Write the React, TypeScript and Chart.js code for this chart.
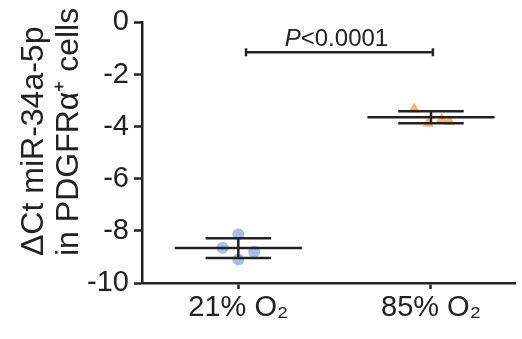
import React, { useEffect, useRef } from 'react';
import { Chart, registerables } from 'chart.js';

Chart.register(...registerables);

const categories = ['21% O₂', '85% O₂'];
const categoryX = [1, 2];
const yTicks = [0, -2, -4, -6, -8, -10];
const values21 = [-8.14, -8.65, -8.8, -9.1];
const jitter21 = [0, -0.082, 0.082, 0];
const values85 = [-3.32, -3.88, -3.72, -3.8];
const jitter85 = [-0.087, -0.015, 0.056, 0.097];
const means = [-8.66, -3.64];
const sds = [0.38, 0.23];
const yTitleLines = ['ΔCt miR-34a-5p', 'in PDGFRα⁺ cells'];
const sigLabel = '<0.0001';
const sigY = -1.15;
const sigX = [1.04, 2.01];

const FONT = 'Arial, "Liberation Sans", Helvetica, sans-serif';
const INK = '#222222';

function summaryLines(ci: number) {
  const c = categoryX[ci];
  const m = means[ci];
  const s = sds[ci];
  const base = { type: 'line' as const, borderColor: INK, borderWidth: 2.5, pointRadius: 0, showLine: true, fill: false, order: 0 };
  return [
    { ...base, data: [{ x: c - 0.33, y: m }, { x: c + 0.33, y: m }] },
    { ...base, data: [{ x: c - 0.17, y: m + s }, { x: c + 0.17, y: m + s }] },
    { ...base, data: [{ x: c - 0.17, y: m - s }, { x: c + 0.17, y: m - s }] },
    { ...base, data: [{ x: c, y: m + s }, { x: c, y: m - s }] },
  ];
}

const annotPlugin = {
  id: 'annot',
  afterDatasetsDraw(chart: any) {
    const { ctx, scales } = chart;
    const x1 = scales.x.getPixelForValue(sigX[0]);
    const x2 = scales.x.getPixelForValue(sigX[1]);
    const y = scales.y.getPixelForValue(sigY);
    ctx.save();
    ctx.strokeStyle = INK;
    ctx.lineWidth = 2.5;
    ctx.beginPath();
    ctx.moveTo(x1, y);
    ctx.lineTo(x2, y);
    ctx.moveTo(x1, y - 4);
    ctx.lineTo(x1, y + 4);
    ctx.moveTo(x2, y - 4);
    ctx.lineTo(x2, y + 4);
    ctx.stroke();
    ctx.fillStyle = INK;
    ctx.textBaseline = 'alphabetic';
    ctx.textAlign = 'left';
    ctx.font = `italic 24px ${FONT}`;
    const pW = ctx.measureText('P').width;
    ctx.font = `24px ${FONT}`;
    const rW = ctx.measureText(sigLabel).width;
    const cx = (x1 + x2) / 2 - 3;
    const start = cx - (pW + rW) / 2;
    ctx.font = `italic 24px ${FONT}`;
    ctx.fillText('P', start, y - 6);
    ctx.font = `24px ${FONT}`;
    ctx.fillText(sigLabel, start + pW, y - 6);
    ctx.restore();

    // y-axis title (two rotated lines, start-aligned)
    ctx.save();
    ctx.fillStyle = INK;
    ctx.font = `32px ${FONT}`;
    ctx.textAlign = 'left';
    ctx.textBaseline = 'alphabetic';
    const baselines = [43, 78];
    yTitleLines.forEach((line, i) => {
      ctx.save();
      ctx.translate(baselines[i], 256);
      ctx.rotate(-Math.PI / 2);
      ctx.fillText(line, 0, 0);
      ctx.restore();
    });
    ctx.restore();
  },
};

export default function App() {
  const ref = useRef<HTMLCanvasElement>(null);
  useEffect(() => {
    document.body.style.margin = '0';
    const chart = new Chart(ref.current!, {
      type: 'scatter',
      data: {
        datasets: [
          ...summaryLines(0),
          ...summaryLines(1),
          {
            type: 'scatter',
            data: values21.map((v, i) => ({ x: categoryX[0] + jitter21[i], y: v })),
            pointStyle: 'circle',
            pointRadius: 6,
            pointBorderWidth: 0,
            backgroundColor: 'rgba(140,168,218,0.75)',
            borderColor: 'rgba(140,168,218,0.75)',
            order: 1,
          } as any,
          {
            type: 'scatter',
            data: values85.map((v, i) => ({ x: categoryX[1] + jitter85[i], y: v })),
            pointStyle: 'triangle',
            pointRadius: 6.5,
            pointBorderWidth: 0,
            backgroundColor: 'rgba(245,165,75,0.8)',
            borderColor: 'rgba(245,165,75,0.8)',
            order: 1,
          } as any,
        ],
      },
      options: {
        animation: false,
        responsive: false,
        maintainAspectRatio: false,
        layout: { padding: { top: 21, right: 0, left: 0, bottom: 0 } },
        plugins: { legend: { display: false }, tooltip: { enabled: false } },
        scales: {
          x: {
            type: 'linear',
            min: 0.5,
            max: 0.5 + 380 / 196,
            afterBuildTicks: (s: any) => { s.ticks = categoryX.map((v) => ({ value: v })); },
            afterFit: (s: any) => { s.height = 56; },
            grid: { display: true, drawOnChartArea: false, drawTicks: true, tickLength: 6, tickWidth: 2.5, tickColor: INK },
            border: { display: true, color: INK, width: 2.5 },
            ticks: {
              color: INK,
              font: { family: FONT, size: 29 },
              padding: 2,
              maxRotation: 0,
              autoSkip: false,
              callback: (v: any) => categories[categoryX.indexOf(Number(v))] ?? '',
            },
          },
          y: {
            type: 'linear',
            min: -10,
            max: 0,
            afterBuildTicks: (s: any) => { s.ticks = yTicks.map((v) => ({ value: v })); },
            afterFit: (s: any) => { s.width = 142; },
            grid: { display: true, drawOnChartArea: false, drawTicks: true, tickLength: 8, tickWidth: 2.5, tickColor: INK },
            border: { display: true, color: INK, width: 2.5 },
            ticks: { color: INK, font: { family: FONT, size: 29 }, padding: 5, autoSkip: false },
            title: { display: false },
          },
        },
      },
      plugins: [annotPlugin],
    });
    return () => chart.destroy();
  }, []);
  return (
    <div style={{ width: 522, height: 339, background: '#fff' }}>
      <canvas ref={ref} width={522} height={339} style={{ display: 'block' }} />
    </div>
  );
}
